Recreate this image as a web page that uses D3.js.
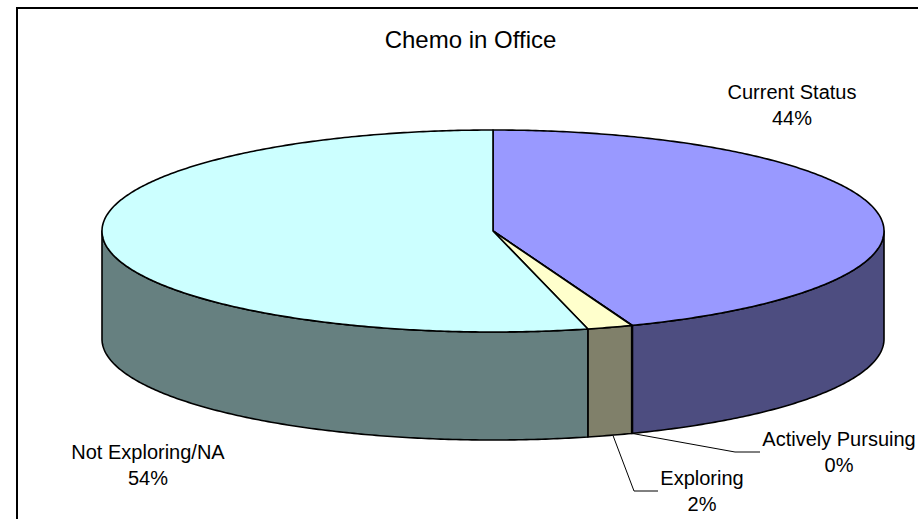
<!DOCTYPE html>
<html><head><meta charset="utf-8">
<script src="https://cdn.jsdelivr.net/npm/d3@7"></script>
<style>html,body{margin:0;padding:0;background:#fff;overflow:hidden}svg{display:block}text{font-family:"Liberation Sans",Arial,sans-serif;fill:#000}</style>
</head><body><svg id="c" width="918" height="519"></svg>
<script>
const categories=["Current Status","Actively Pursuing","Exploring","Not Exploring/NA"];
const values=[44.2,0.03,1.87,53.9];
const topColors=["#9999FF","#993366","#FFFFCC","#CCFFFF"];
const sideColors=["#4D4D80","#4D1A33","#80806A","#668080"];
const title="Chemo in Office";
const labelX=[792,839,702,148];
const labelY=[98.5,445.5,484.5,458.5];
const svg=d3.select("#c");
svg.append("rect").attr("x",17).attr("y",8).attr("width",910).attr("height",520).attr("fill","#fff").attr("stroke","#000").attr("stroke-width",2);
const x=d3.scaleLinear().domain([-1,1]).range([102,884]);
const y=d3.scaleLinear().domain([-1,1]).range([130,332]);
const depth=108;
const pie=d3.pie().sort(null).startAngle(0).endAngle(2*Math.PI);
const arcs=pie(values);
const line=d3.line();
const ptsOn=(a0,a1,dy=0)=>{const n=Math.max(2,Math.ceil((a1-a0)/0.01));return d3.range(n+1).map(i=>{const a=a0+(a1-a0)*i/n;return [x(Math.sin(a)),y(-Math.cos(a))+dy];});};
const sw=1.6;
arcs.forEach((d,i)=>{
  const a0=Math.max(d.startAngle,Math.PI/2),a1=Math.min(d.endAngle,3*Math.PI/2);
  if(a1<=a0)return;
  const p=ptsOn(a0,a1).concat(ptsOn(a0,a1,depth).reverse());
  svg.append("path").attr("d",line(p)+"Z").attr("fill",sideColors[i]).attr("stroke","#000").attr("stroke-width",sw).attr("stroke-linejoin","round");
});
arcs.forEach((d,i)=>{
  const p=[[x(0),y(0)]].concat(ptsOn(d.startAngle,d.endAngle));
  svg.append("path").attr("d",line(p)+"Z").attr("fill",topColors[i]).attr("stroke","#000").attr("stroke-width",sw).attr("stroke-linejoin","round");
});
const rimPoint=(i,dy)=>{const m=(arcs[i].startAngle+arcs[i].endAngle)/2;return [x(Math.sin(m))+(i===2?3:0),y(-Math.cos(m))+dy];};
const leaderBends=[[1,[[735,452],[760,452]]],[2,[[634,491],[658,491]]]];
leaderBends.forEach(([i,b])=>svg.append("path").attr("d",line([rimPoint(i,depth)].concat(b))).attr("fill","none").attr("stroke","#000").attr("stroke-width",1));
svg.append("text").attr("x",470.5).attr("y",48).attr("text-anchor","middle").attr("font-size",24).text(title);
categories.forEach((c,i)=>{
  const t=svg.append("text").attr("text-anchor","middle").attr("font-size",20);
  t.append("tspan").attr("x",labelX[i]).attr("y",labelY[i]).text(c);
  t.append("tspan").attr("x",labelX[i]).attr("y",labelY[i]+26.5).text(Math.round(values[i])+"%");
});
</script></body></html>
